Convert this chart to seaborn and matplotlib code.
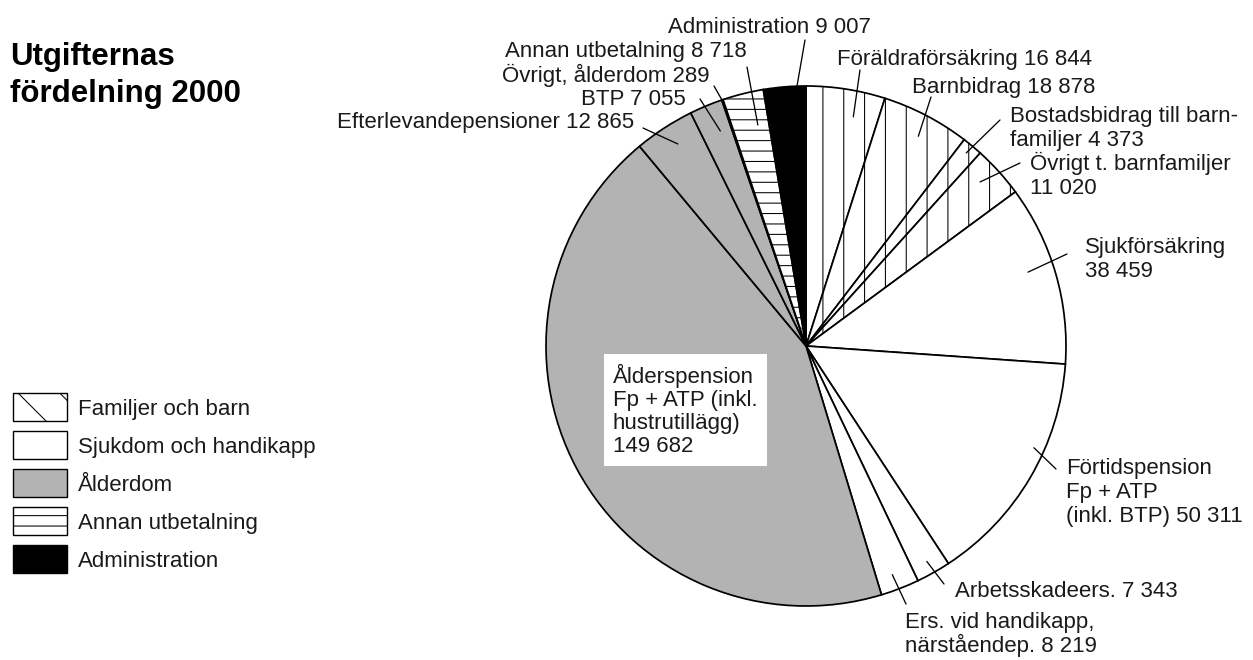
import numpy as np
import pandas as pd
import matplotlib
matplotlib.use("Agg")
import matplotlib.pyplot as plt
from matplotlib.patches import Rectangle
import seaborn as sns

# ---------------- data ----------------
categories = ["Föräldraförsäkring", "Barnbidrag", "Bostadsbidrag till barnfamiljer",
              "Övrigt t. barnfamiljer", "Sjukförsäkring", "Förtidspension",
              "Arbetsskadeers.", "Ers. vid handikapp, närståendep.", "Ålderspension",
              "Efterlevandepensioner", "BTP", "Övrigt, ålderdom",
              "Annan utbetalning", "Administration"]
values = [16844, 18878, 4373, 11020, 38459, 50311, 7343, 8219, 149682,
          12865, 7055, 289, 8718, 9007]
groups = ["Familjer och barn"] * 4 + ["Sjukdom och handikapp"] * 4 + \
         ["Ålderdom"] * 4 + ["Annan utbetalning", "Administration"]
label_templates = [
    "Föräldraförsäkring {}", "Barnbidrag {}", "Bostadsbidrag till barn-\nfamiljer {}",
    "Övrigt t. barnfamiljer\n{}", "Sjukförsäkring\n{}", "Förtidspension\nFp + ATP\n(inkl. BTP) {}",
    "Arbetsskadeers. {}", "Ers. vid handikapp,\nnärståendep. {}",
    "Ålderspension\nFp + ATP (inkl.\nhustrutillägg)\n{}",
    "Efterlevandepensioner {}", "BTP {}", "Övrigt, ålderdom {}",
    "Annan utbetalning {}", "Administration {}"]
legend_labels = ["Familjer och barn", "Sjukdom och handikapp", "Ålderdom",
                 "Annan utbetalning", "Administration"]
title = "Utgifternas\nfördelning 2000"

df = pd.DataFrame({"kategori": categories, "varde": values, "grupp": groups})

# ---------------- style ----------------
W, H, DPI = 1253, 660, 125
sns.set_theme(style="white")
plt.rcParams["font.family"] = ["Liberation Sans", "DejaVu Sans"]
plt.rcParams["hatch.linewidth"] = 0.6
plt.rcParams["text.color"] = "#1a1a1a"

GRAY = "#b3b3b3"
group_face = {"Familjer och barn": "white", "Sjukdom och handikapp": "white",
              "Ålderdom": GRAY, "Annan utbetalning": "white", "Administration": "black"}
group_hatch = {"Familjer och barn": "|", "Sjukdom och handikapp": None,
               "Ålderdom": None, "Annan utbetalning": "--", "Administration": None}
legend_hatch = {"Familjer och barn": "\\", "Sjukdom och handikapp": None,
                "Ålderdom": None, "Annan utbetalning": "--", "Administration": None}

FS = 12.8
PITCH = 24.0   # px between lines of multi-line labels

fig = plt.figure(figsize=(W / DPI, H / DPI), dpi=DPI)
fig.patch.set_facecolor("white")

# pie axes: centre (806, 346) px, radius 260 px
cx, cy, R = 806, 346, 260
ax = fig.add_axes([(cx - R) / W, (H - cy - R) / H, 2 * R / W, 2 * R / H])
wedges, _ = ax.pie(df["varde"], startangle=90, counterclock=False, radius=1,
                   colors=[group_face[g] for g in df["grupp"]],
                   wedgeprops=dict(edgecolor="black", linewidth=1.0))
for w, g in zip(wedges, df["grupp"]):
    h = group_hatch[g]
    if h:
        w.set_hatch(h)
    w.set_clip_on(False)
ax.set_xlim(-1, 1)
ax.set_ylim(-1, 1)
ax.set_aspect("equal")
ax.axis("off")

total = df["varde"].sum()
cum = np.concatenate([[0], np.cumsum(df["varde"])]) / total * 360.0

# layout per label: text x, first baseline y (image px), ha, leader outer (px), position in wedge, radius frac
layout = [
    (837, 65, "left", (860, 70), 0.66, 0.90),
    (912, 93, "left", (931, 97), 0.53, 0.915),
    (1010, 122, "left", (1000, 120), 0.48, 0.965),
    (1030, 170, "left", (1020, 163), 0.40, 0.92),
    (1085, 253, "left", (1067, 254), 0.445, 0.90),
    (1066, 474, "left", (1056, 469), 0.38, 0.96),
    (955, 597, "left", (944, 584), 0.51, 0.95),
    (905, 628, "left", (906, 604), 0.56, 0.94),
    None,
    (634, 128, "right", (643, 128), 0.55, 0.92),
    (686, 105, "right", (700, 99), 0.62, 0.89),
    (710, 82, "right", (714, 86), 0.5, 0.99),
    (747, 57, "right", (747, 67), 0.69, 0.87),
    (668, 33, "left", (805, 40), 0.79, 1.0),
]

def fmt(v):
    return f"{v:,}".replace(",", " ")

def put_lines(x, y_first, txt, ha, **kw):
    for k, line in enumerate(txt.split("\n")):
        fig.text(x / W, 1 - (y_first + k * PITCH) / H, line, fontsize=FS,
                 ha=ha, va="baseline", **kw)

for i, (tmpl, v) in enumerate(zip(label_templates, df["varde"])):
    txt = tmpl.format(fmt(v))
    lay = layout[i]
    if lay is None:
        n = txt.count("\n")
        fig.text(613 / W, 1 - (382 + n * 23.3) / H, txt, fontsize=FS, ha="left",
                 va="baseline", linespacing=1.13,
                 bbox=dict(facecolor="white", edgecolor="none", boxstyle="square,pad=0.42"))
        continue
    tx, ty, ha, (ox, oy), frac, rf = lay
    put_lines(tx, ty, txt, ha)
    a = np.deg2rad(cum[i] + frac * (cum[i + 1] - cum[i]))
    ax.annotate("", xy=(rf * np.sin(a), rf * np.cos(a)), xycoords="data",
                xytext=(ox, H - oy), textcoords="figure pixels",
                arrowprops=dict(arrowstyle="-", lw=0.75, color="black",
                                shrinkA=0, shrinkB=0), annotation_clip=False)

# title
for k, line in enumerate(title.split("\n")):
    fig.text(10 / W, 1 - (65 + k * 37) / H, line, fontsize=18, fontweight="bold",
             ha="left", va="baseline", color="black")

# legend (drawn as figure patches)
for k, g in enumerate(legend_labels):
    top = 393 + k * 38
    fig.add_artist(Rectangle((13 / W, 1 - (top + 28) / H), 54 / W, 28 / H,
                             transform=fig.transFigure, facecolor=group_face[g],
                             edgecolor="black", linewidth=0.8,
                             hatch=legend_hatch[g]))
    fig.text(78 / W, 1 - (top + 14) / H, g, fontsize=FS, ha="left",
             va="center_baseline")

fig.savefig("out.png", dpi=DPI, facecolor="white")
